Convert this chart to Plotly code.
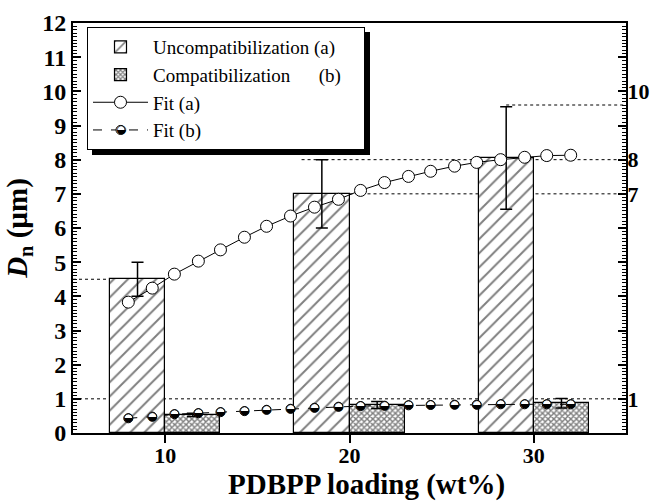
import plotly.graph_objects as go

# ---------------- data ----------------
loading = [10, 20, 30]
uncompat = [4.5, 7.0, 8.05]
uncompat_err = [0.5, 1.0, 1.5]
compat = [0.53, 0.82, 0.87]
compat_err = [0.05, 0.10, 0.14]

fit_x = [8.0, 9.3, 10.5, 11.8, 13.0, 14.3, 15.5, 16.8, 18.1, 19.4,
         20.6, 21.9, 23.2, 24.4, 25.7, 26.9, 28.2, 29.5, 30.7, 32.0]
fit_a = [3.83, 4.24, 4.65, 5.03, 5.36, 5.73, 6.05, 6.35, 6.61, 6.84,
         7.10, 7.33, 7.51, 7.66, 7.81, 7.92, 8.00, 8.07, 8.12, 8.13]
fit_b = [0.43, 0.48, 0.55, 0.58, 0.61, 0.64, 0.68, 0.71, 0.74, 0.77,
         0.79, 0.80, 0.81, 0.82, 0.83, 0.83, 0.84, 0.84, 0.84, 0.84]

x_ticks = [10, 20, 30]
y_ticks = list(range(0, 13))
right_ticks = [1, 7, 8, 10]
right_labels = ["1", "7", "8", "10"]

# reference (dotted) lines: (y, x_start, x_end)
ref_lines = [(4.5, 5, 10), (1.0, 5, 35), (7.0, 20, 35), (8.0, 17.4, 35), (9.6, 28.5, 35)]

SERIF = "Liberation Serif"
NB = "\u00a0"
HALF = "\u25d2"

fig = go.Figure()

fig.add_trace(go.Bar(
    x=loading, y=uncompat, width=3, offset=-3,
    name="Uncompatibilization (a)" + NB * 5,
    marker=dict(color="white", line=dict(color="black", width=1.2),
                pattern=dict(shape="/", fgcolor="black", bgcolor="white",
                             size=10, solidity=0.2)),
    error_y=dict(type="data", array=uncompat_err, color="black",
                 thickness=1.5, width=6),
))
fig.add_trace(go.Bar(
    x=loading, y=compat, width=3, offset=0,
    name="Compatibilization" + NB * 6 + "(b)",
    marker=dict(color="white", line=dict(color="black", width=1.2),
                pattern=dict(shape="x", fgcolor="black", bgcolor="white",
                             size=4, solidity=0.6)),
    error_y=dict(type="data", array=compat_err, color="black",
                 thickness=1.5, width=6),
))
fig.add_trace(go.Scatter(
    x=fit_x, y=fit_a, mode="lines+markers", name="Fit (a)", yaxis="y2",
    line=dict(color="black", width=1),
    marker=dict(symbol="circle", size=12, color="white",
                line=dict(color="black", width=1)),
))
fig.add_trace(go.Scatter(
    x=fit_x, y=fit_b, mode="lines+markers", name="Fit (b)", yaxis="y3",
    line=dict(color="black", width=1, dash="dash"),
    marker=dict(symbol="circle", size=9, color="white",
                line=dict(color="black", width=1)),
))
fig.add_trace(go.Scatter(
    x=fit_x, y=fit_b, mode="text", text=[HALF] * len(fit_x),
    textposition="middle center", yaxis="y3", showlegend=False,
    textfont=dict(family="DejaVu Sans", size=12, color="black"),
    hoverinfo="skip",
))

for (yy, x0, x1) in ref_lines:
    fig.add_shape(type="line", xref="x", yref="y", x0=x0, x1=x1, y0=yy, y1=yy,
                  line=dict(color="black", width=1, dash="dot"), layer="below")

# legend shadow
fig.add_shape(type="rect", xref="paper", yref="paper",
              x0=(92 - 73) / 553, x1=(370 - 73) / 553,
              y0=(433 - 155) / 410, y1=(433 - 32) / 410,
              fillcolor="black", line=dict(width=0), layer="above")

# half-filled symbol for the Fit (b) legend entry
fig.add_annotation(text=HALF, xref="paper", yref="paper",
                   x=(121 - 73) / 553, y=(433 - 129) / 410, xanchor="center", yanchor="middle",
                   showarrow=False, font=dict(family="DejaVu Sans", size=12, color="black"))

# x-axis title (slightly right of centre, as in the original)
fig.add_annotation(text="<b>PDBPP loading (wt%)</b>", xref="paper", yref="paper",
                   x=(366 - 73) / 553, y=0, yshift=-70, xanchor="center", yanchor="bottom",
                   showarrow=False, font=dict(family=SERIF, size=29, color="black"))

tickfont = dict(family=SERIF, size=24, color="black", weight="bold")
xtickfont = dict(family=SERIF, size=22, color="black", weight="bold")
rtickfont = dict(family=SERIF, size=22, color="black", weight="bold")
minor_ticks = dict(dtick=0.1, ticks="inside", ticklen=4, tickwidth=1, tickcolor="black")

fig.update_layout(
    width=654, height=504,
    margin=dict(l=73, r=28, t=23, b=71),
    paper_bgcolor="white", plot_bgcolor="white",
    barmode="overlay", bargap=0,
    showlegend=True,
    legend=dict(x=(87 - 73) / 553, y=(433 - 27) / 410, xanchor="left", yanchor="top",
                bgcolor="white", bordercolor="black", borderwidth=1,
                font=dict(family=SERIF, size=19, color="black"),
                itemwidth=55, tracegroupgap=0),
    xaxis=dict(range=[5, 35], tickvals=x_ticks, ticks="outside", ticklen=8, tickwidth=2,
               tickcolor="black", showline=True, linecolor="black", linewidth=2,
               mirror=True, showgrid=False, zeroline=False, tickfont=xtickfont,
               automargin=False, ticklabelstandoff=-6),
    yaxis=dict(range=[0, 12], tickvals=y_ticks, ticks="inside", ticklen=8, tickwidth=1.5,
               tickcolor="black", showline=True, linecolor="black", linewidth=2,
               showgrid=False, zeroline=False, tickfont=tickfont, minor=minor_ticks,
               automargin=False,
               title=dict(text="<b><i>D</i><sub>n</sub> (µm)</b>",
                          font=dict(family=SERIF, size=29, color="black"), standoff=6)),
    yaxis2=dict(range=[0, 12], overlaying="y", side="right", tickvals=right_ticks,
                ticktext=right_labels, ticks="inside", ticklen=8, tickwidth=1.5,
                tickcolor="black", showline=True, linecolor="black", linewidth=2,
                showgrid=False, zeroline=False, tickfont=rtickfont, automargin=False,
                ticklabelstandoff=-5),
    yaxis3=dict(range=[0, 12], overlaying="y", side="right", tickvals=y_ticks,
                showticklabels=False, ticks="inside", ticklen=8, tickwidth=1.5,
                tickcolor="black", showline=False, showgrid=False, zeroline=False,
                minor=minor_ticks, automargin=False),
)

fig.write_html("out.html")
